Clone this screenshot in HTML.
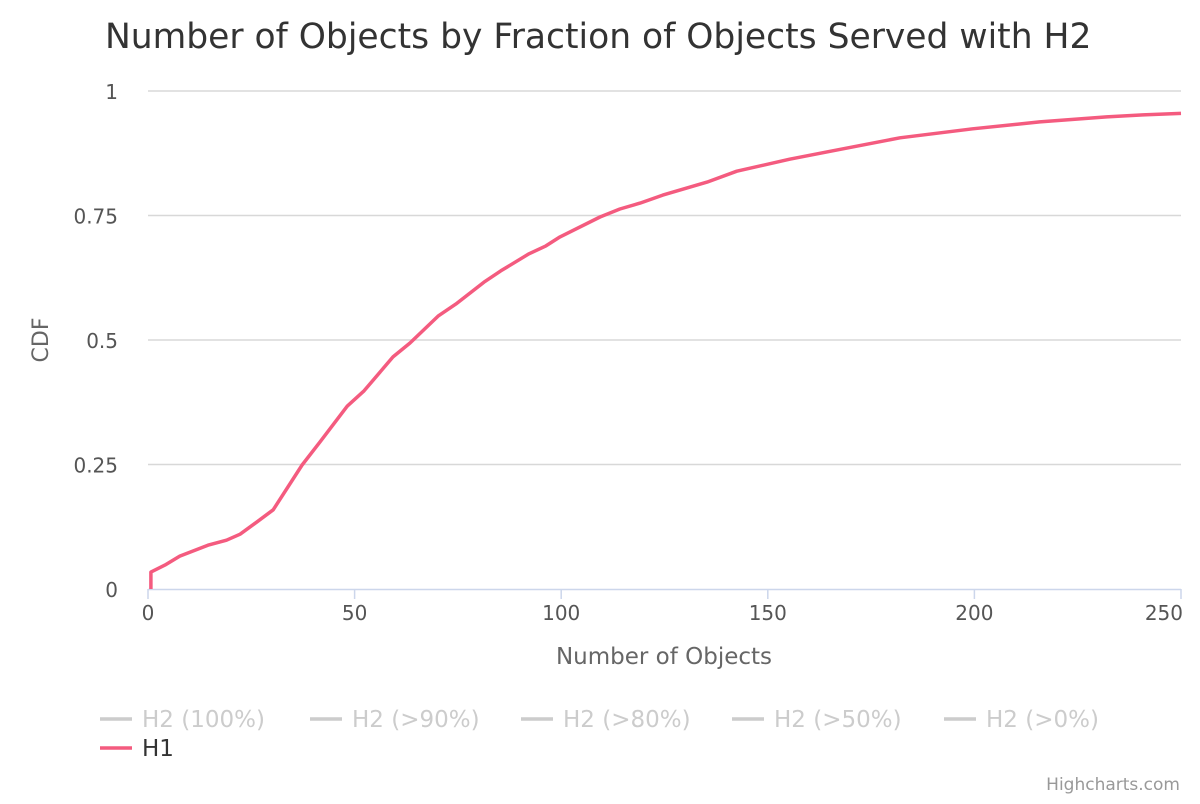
<!DOCTYPE html>
<html><head><meta charset="utf-8"><style>
body{margin:0;background:#fff;font-family:"DejaVu Sans","Liberation Sans",sans-serif}
svg text{font-family:"DejaVu Sans","Liberation Sans",sans-serif}
</style></head><body>
<svg id="chart" width="1200" height="800">
<text x="105" y="48" font-size="34.5" fill="#333">Number of Objects by Fraction of Objects Served with H2</text>
<g id="grid"></g>
<g id="axes"></g>
<text x="48" y="340" font-size="22" fill="#666" text-anchor="middle" transform="rotate(-90 48 340)">CDF</text>
<text x="664" y="664" font-size="23" fill="#666" text-anchor="middle">Number of Objects</text>
<g id="series"></g>
<g id="legend"></g>
<text x="1180" y="790" font-size="17" fill="#999" text-anchor="end">Highcharts.com</text>
</svg>
<script>
const xVals=[0.7,0.7,4.1,7.7,14.5,19,22.3,26.4,30.3,37.3,41.6,48.2,52.3,59.3,63.4,70.2,74.5,81.3,85.4,92.2,96.3,99.7,109.4,114.2,119.1,124.6,135.3,142.5,155.3,165.7,182,199.6,215.8,232,240.8,250];
const yVals=[0,0.034,0.048,0.066,0.088,0.098,0.110,0.135,0.159,0.249,0.295,0.367,0.398,0.466,0.494,0.548,0.572,0.616,0.639,0.673,0.689,0.707,0.747,0.763,0.775,0.791,0.817,0.839,0.863,0.880,0.906,0.924,0.938,0.948,0.952,0.955];
const xTicks=[0,50,100,150,200,250];
const yTicks=[0,0.25,0.5,0.75,1];
const yTickLabels=["0","0.25","0.5","0.75","1"];
const legendNames=["H2 (100%)","H2 (>90%)","H2 (>80%)","H2 (>50%)","H2 (>0%)","H1"];
const NS="http://www.w3.org/2000/svg";
const X0=148,X1=1181,Y0=589,Y1=91;
const sx=v=>X0+(X1-X0)*v/250, sy=v=>Y0-(Y0-Y1)*v;
function mk(t,a,p){const e=document.createElementNS(NS,t);for(const k in a)e.setAttribute(k,a[k]);p.appendChild(e);return e;}
const grid=document.getElementById('grid'),axes=document.getElementById('axes');
yTicks.forEach((v,i)=>{
 if(v>0){const l=mk('line',{x1:X0,x2:X1,y1:sy(v),y2:sy(v),stroke:'#d8d8d8','stroke-width':1.5},grid);
 
 }
 const t=mk('text',{x:118,y:sy(v)+8,'font-size':20,fill:'#555','text-anchor':'end'},axes);t.textContent=yTickLabels[i];
 
 
});
const ax=mk('line',{x1:X0,x2:X1,y1:Y0+0.5,y2:Y0+0.5,stroke:'#ccd6eb','stroke-width':1.5},axes);


xTicks.forEach(v=>{
 const tk=mk('line',{x1:sx(v),x2:sx(v),y1:Y0,y2:Y0+10,stroke:'#ccd6eb','stroke-width':1.5},axes);
 
 
 const t=mk('text',{x:sx(v),y:Y0+31,'font-size':20,fill:'#555','text-anchor':v==250?'end':'middle'},axes);t.textContent=v;
 if(v==250)t.setAttribute('x',sx(v)+2);
 
 
});
const d=xVals.map((v,i)=>(i?'L':'M')+sx(v).toFixed(1)+','+sy(yVals[i]).toFixed(1)).join(' ');
const p=mk('path',{d:d,fill:'none',stroke:'#f45b7f','stroke-width':3.5,'stroke-linejoin':'round'},document.getElementById('series'));


const lg=document.getElementById('legend');
const lx=[100,310,521,732,944];
legendNames.forEach((n,i)=>{
 const x=i<5?lx[i]:100,y=i<5?719:748,c=i<5?'#cccccc':'#f45b7f';
 const g=mk('g',{},lg);
 
 
 mk('line',{x1:x,x2:x+32,y1:y,y2:y,stroke:c,'stroke-width':3.5},g);
 const t=mk('text',{x:x+42,y:y+8,'font-size':23,fill:i<5?'#cccccc':'#333'},g);t.textContent=n;
});
</script>
</body></html>
